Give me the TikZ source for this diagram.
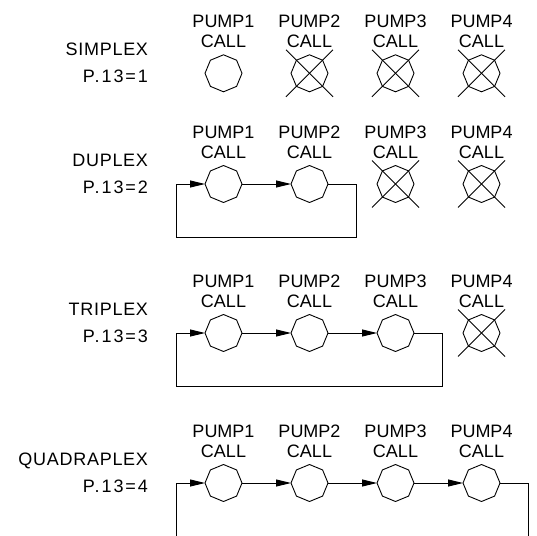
\documentclass[tikz,border=0pt]{standalone}
\usepackage{fontspec}
\setmainfont{Liberation Sans}
\newfontfamily\widefont[LetterSpace=11]{Liberation Sans}
\newfontfamily\semiwidefont[LetterSpace=4]{Liberation Sans}
\usetikzlibrary{shapes.geometric,arrows.meta}
\begin{document}
\begin{tikzpicture}[x=1pt,y=-1pt,
  every node/.style={inner sep=0pt,outer sep=0pt,font=\fontsize{18}{20}\selectfont},
  pumpbox/.style={draw,line width=0.9pt,regular polygon,regular polygon sides=8,
    shape border rotate=22.5,minimum size=37pt,inner sep=0pt,outer sep=0pt},
  lbl/.style={anchor=base},
  rowlbl/.style={anchor=base east,font=\fontsize{18}{20}\semiwidefont},
  parlbl/.style={anchor=base east,font=\fontsize{18}{20}\widefont},
  wire/.style={line width=0.9pt},
  flow/.style={line width=0.9pt,-{Triangle[length=15pt,width=7pt]}},
  cross/.style={line width=0.9pt}]
\useasboundingbox (0,0) rectangle (537,535);
% rows: index / y-center / name / number
\foreach \r/\yc/\nm/\nn in {1/73.3/SIMPLEX/1,2/184/DUPLEX/2,3/333/TRIPLEX/3,4/483/QUADRAPLEX/4}{
  \node[rowlbl] (name\r) at (148,\yc-17.5) {\nm};
  \node[parlbl] (par\r) at (148,\yc+9.5) {P.13=\nn};
  \foreach \c in {1,2,3,4}{
    \pgfmathsetmacro{\xc}{223.5+86*(\c-1)}
    \node[lbl] (pump\r\c) at (\xc,\yc-45.5) {PUMP\c};
    \node[lbl] (call\r\c) at (\xc,\yc-25.5) {CALL};
    \node[pumpbox] (p\r\c) at (\xc,\yc) {};
  }
}
% crossed (inactive) pumps
\foreach \pp in {p12,p13,p14,p23,p24,p34}{
  \draw[cross] ([shift={(-23.5,-23.5)}]\pp.center) -- ([shift={(23.5,23.5)}]\pp.center);
  \draw[cross] ([shift={(-23.5,23.5)}]\pp.center) -- ([shift={(23.5,-23.5)}]\pp.center);
}
% DUPLEX loop
\coordinate (d1) at (356.8,184);
\coordinate (d2) at (356.8,237);
\coordinate (d3) at (176,237);
\coordinate (d4) at (176,184);
\draw[flow] (p21.0) -- (p22.180);
\draw[wire] (p22.0) -- (d1) -- (d2) -- (d3) -- (d4);
\draw[flow] (d4) -- (p21.180);
% TRIPLEX loop
\coordinate (t1) at (442.8,333);
\coordinate (t2) at (442.8,386);
\coordinate (t3) at (176,386);
\coordinate (t4) at (176,333);
\draw[flow] (p31.0) -- (p32.180);
\draw[flow] (p32.0) -- (p33.180);
\draw[wire] (p33.0) -- (t1) -- (t2) -- (t3) -- (t4);
\draw[flow] (t4) -- (p31.180);
% QUADRAPLEX loop (continues below the picture)
\coordinate (q1) at (528.8,483);
\coordinate (q2) at (528.8,540);
\coordinate (q3) at (176,540);
\coordinate (q4) at (176,483);
\draw[flow] (p41.0) -- (p42.180);
\draw[flow] (p42.0) -- (p43.180);
\draw[flow] (p43.0) -- (p44.180);
\draw[wire] (p44.0) -- (q1) -- (q2);
\draw[wire] (q3) -- (q4);
\draw[flow] (q4) -- (p41.180);
\end{tikzpicture}
\end{document}
